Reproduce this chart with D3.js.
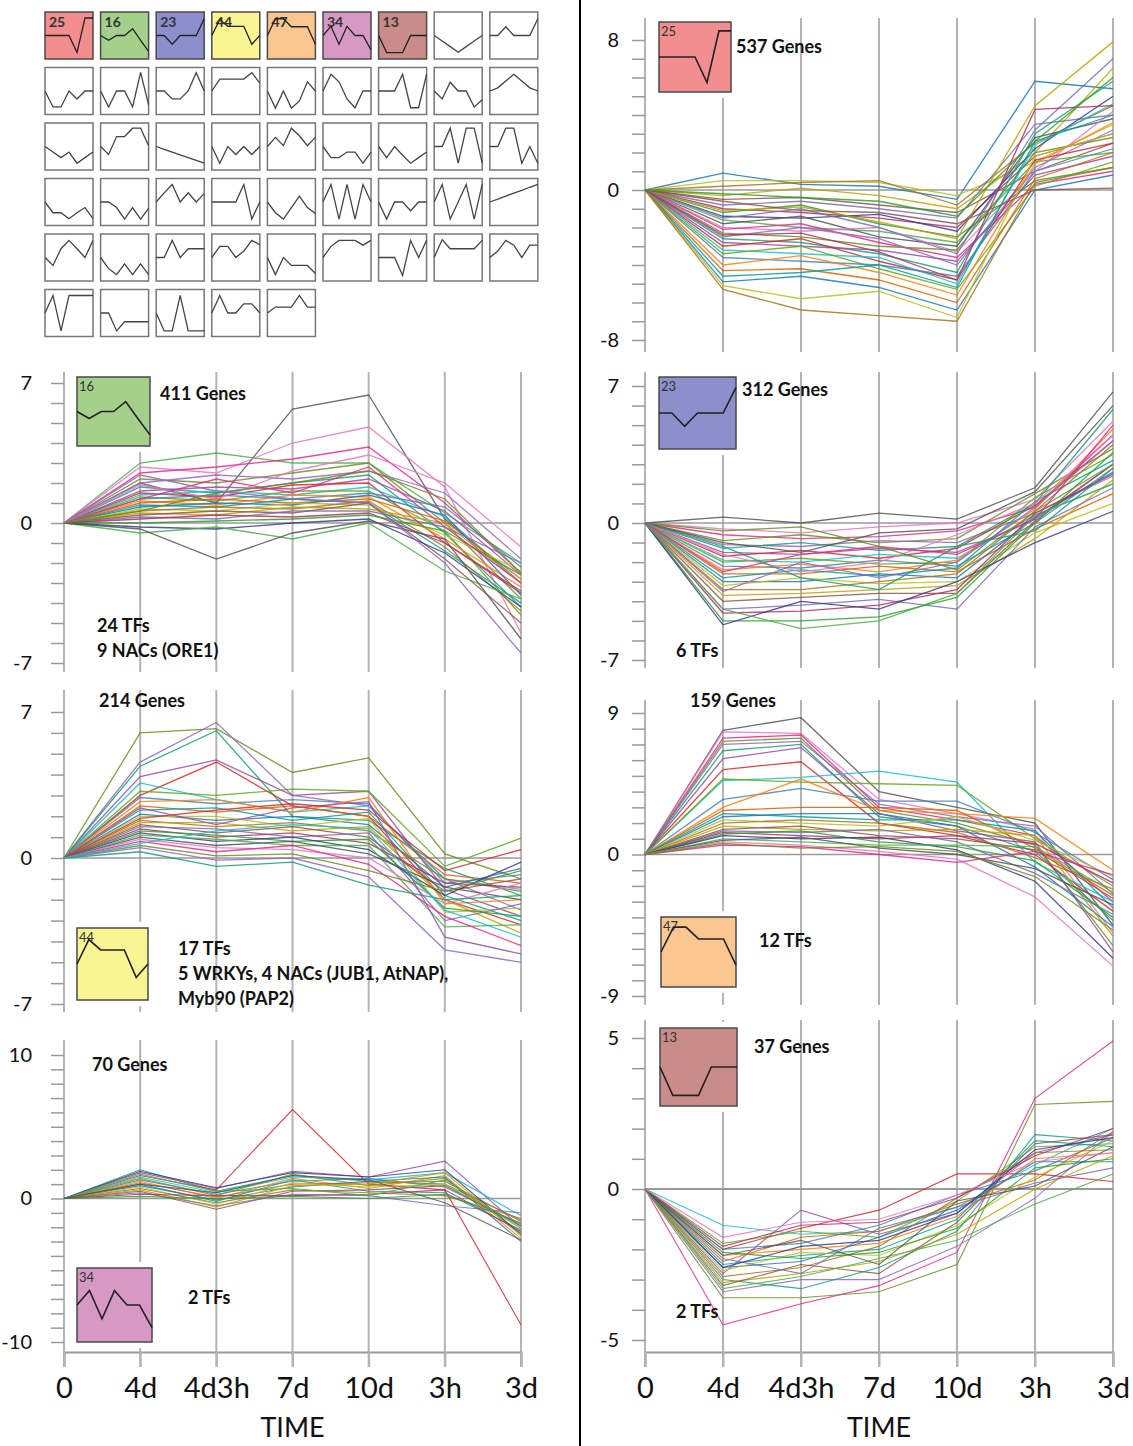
<!DOCTYPE html>
<html>
<head>
<meta charset="utf-8">
<script src="https://cdn.jsdelivr.net/npm/d3@7"></script>
<style>
  body { margin: 0; background: #fff; }
  svg { display: block; }
  text { font-family: Lato, "Open Sans", sans-serif; }
</style>
</head>
<body>
<div id="chart"></div>
<script>
// time points on the x axis
var times = ["0", "4d", "4d3h", "7d", "10d", "3h", "3d"];

// model profile ids of the coloured (significant) profiles
var gridIds = [25, 16, 23, 44, 47, 34, 13];

// the 50 model profiles shown as thumbnails (in profile units)
var gridProfiles = [
  [0, 0, 0, 0, -4.3, 4.4, 4.4],
  [0, -1.2, 0, 0, 1.7, -1.2, -4],
  [0, 0, -2.2, 0, 0, 0, 4.2],
  [0, 4, 2.3, 2.3, 2.3, -2.2, 0],
  [0, 4.2, 4.2, 2.2, 2.2, 2.2, -2.2],
  [0, 2.3, -2.2, 2.3, 0, 0, -3.6],
  [0, -4.3, -4.3, -4.3, 0, 0, 0],
  [0, -1.4, -2.8, -4.2, -2.8, -1.4, 0],
  [0, 0, 2.2, 0, 0, 0, 4.2],
  [0, -4, -4, 0, -2, 0, 0],
  [0, -4, 0, 0, -4, 4.7, -3.5],
  [0, 0, -2, -2, 0, 4.6, 0],
  [0, 3, 3, 3, 3, 4.6, 2],
  [0, -4.3, 0, -4.3, -2.5, 2.3, 0],
  [0, 4.2, 2.3, -2, -4.2, 0, 0],
  [0, 0, 0, 4.2, -4.2, -4.2, 4.2],
  [0, -2, 2.2, 0, 0, -4, -2.2],
  [0, 0.8, 2.5, 4.2, 2.5, 0.8, 0],
  [0, -1.4, -2.8, -1.4, -4.2, -2.8, -1.4],
  [0, -2, 2.5, 2.5, 4.6, 4.6, 0.2],
  [0, -0.7, -1.4, -2.1, -2.8, -3.5, -4.2],
  [0, -4.2, 0, -2, 0, -2, 0],
  [0, 2.3, 0.2, 4.6, 2.7, 0.2, 2.3],
  [0, -2.8, -2.8, -1.4, -1.4, -4.2, -1.4],
  [0, -2.8, 0, -2.2, -4.2, -2.8, -1.4],
  [0, 0, 4.6, -4.2, 4.6, 4.6, -4.2],
  [0, 0, 4.6, 4.6, -4.2, 0, -4.2],
  [0, -2.7, -2.7, -4.2, -2.7, -1.4, -4.2],
  [0, 0, -1.4, -4.3, -1.4, -4.3, -1.6],
  [0, 2.3, 4.4, 0, 2.3, 0, 2.1],
  [0, 0, 0, 0, 4.4, -4.3, 0],
  [0, -2.7, -4.3, -1.4, 1.5, -1.4, -2.9],
  [0, 4.4, -4.3, 4.4, -4.3, 4.4, 0],
  [0, -4.3, 0, 0, -2.2, 0, 0],
  [0, 4.4, -4.3, 0, 4.4, -4.3, 4.4],
  [0, 0.7, 1.5, 2.2, 2.9, 3.7, 4.4],
  [0, -2, 2.2, 4.3, 2.2, 0, 4.3],
  [0, -2.8, -4.3, -1.6, -4.3, -1.6, -4.3],
  [0, 0, 4.3, 0, 2.2, 2.2, 2.2],
  [0, 2.8, 2.8, 0, 1.6, 4.3, 3.2],
  [0, -4.3, 0, -2, -2, -2, -4],
  [0, 2.8, 4.3, 4.3, 4.3, 3.1, 4.3],
  [0, 0, 0, -4.5, 4.3, 0, 4.3],
  [0, 4.5, 2.2, 2.2, 2.2, 2.2, 4.3],
  [0, 1.6, 4.3, 3.1, 0, 3.1, 3.1],
  [0, 4.4, -4.5, 4.4, 4.4, 4.4, 4.4],
  [0, 0, -4.5, -2.2, -2.2, -2.2, -2.2],
  [0, -4.5, -4.5, 4.4, -4.5, -4.5, -4.5],
  [0, 4.4, 0, 0, 2.3, 2.3, 0],
  [0, 1.5, 1.5, 1.5, 4.4, 1.5, 1.5]
];

// gene expression lines (representative genes)
var genes25 = [
  [0, 0.9, 0.3, 0.2, -0.5, 5.8, 5.4],
  [0, 0.5, 0.5, 0.4, -0.3, 1.5, 3.5],
  [0, 0.2, 0.4, 0.5, -0.8, 2.5, 4.5],
  [0, -0.3, 0.1, -0.3, -1.0, 2.0, 6.5],
  [0, -0.5, -0.4, -0.8, -1.2, 1.0, 2.5],
  [0, -0.8, -0.6, -1.0, -1.5, 3.5, 4.0],
  [0, -1.0, -1.2, -1.5, -2.0, 1.8, 3.0],
  [0, -1.2, -0.8, -1.8, -2.5, 0.5, 1.2],
  [0, -1.4, -1.5, -1.3, -2.2, 2.2, 5.0],
  [0, -1.6, -2.0, -2.2, -2.8, 1.5, 2.0],
  [0, -1.8, -1.4, -2.5, -3.0, 2.8, 3.8],
  [0, -2.0, -2.2, -2.0, -3.3, 1.0, 4.2],
  [0, -2.1, -1.8, -2.8, -3.6, 0.3, 1.0],
  [0, -2.3, -2.5, -3.0, -3.2, 2.0, 2.8],
  [0, -2.5, -2.0, -2.6, -4.0, 1.2, 3.2],
  [0, -2.6, -2.8, -3.4, -4.4, 3.0, 5.8],
  [0, -2.8, -3.0, -3.2, -3.8, 0.8, 1.8],
  [0, -3.0, -2.6, -3.8, -4.8, 1.6, 2.5],
  [0, -3.2, -3.4, -3.6, -5.0, 2.4, 4.6],
  [0, -3.4, -3.0, -4.2, -5.3, 0.2, 1.5],
  [0, -3.6, -3.8, -4.0, -4.6, 1.0, 2.2],
  [0, -4.0, -3.5, -4.4, -5.6, 1.4, 3.6],
  [0, -4.3, -4.2, -4.8, -6.0, 0.6, 2.0],
  [0, -4.6, -4.4, -4.0, -5.2, 2.6, 4.0],
  [0, -4.9, -4.6, -5.2, -6.4, 0.0, 0.8],
  [0, -5.1, -5.8, -5.4, -6.8, 1.8, 3.0],
  [0, -5.3, -6.4, -6.7, -7.0, 0.4, 1.2],
  [0, -1.1, -0.9, -1.7, -2.6, 4.5, 7.9],
  [0, -0.6, -1.1, -1.2, -1.8, 0.0, 0.1],
  [0, -1.5, -1.0, -2.0, -3.4, 3.2, 7.0],
  [0, -2.4, -2.3, -3.3, -4.8, 4.3, 4.5],
  [0, -0.2, -0.4, -0.6, -1.4, 2.6, 6.0]
];
var genes16 = [
  [0, 3.0, 3.5, 3.0, 3.0, 0.5, -2.0],
  [0, 2.0, 1.0, 5.7, 6.4, 0.2, -3.0],
  [0, 2.8, 2.5, 4.0, 4.8, 1.8, -5.5],
  [0, 2.5, 2.8, 3.2, 3.8, 1.0, -2.5],
  [0, 2.2, 2.0, 2.5, 3.0, 0.0, -3.8],
  [0, 2.0, 2.4, 2.2, 2.6, 1.5, -1.8],
  [0, 1.8, 1.5, 2.0, 2.4, -0.5, -4.2],
  [0, 1.6, 1.8, 1.7, 2.2, 0.6, -2.6],
  [0, 1.5, 1.3, 1.9, 2.0, -1.0, -3.5],
  [0, 1.4, 1.6, 1.4, 1.8, 0.3, -3.0],
  [0, 1.3, 1.1, 1.6, 1.6, -0.4, -4.6],
  [0, 1.2, 1.4, 1.2, 1.5, 0.8, -2.2],
  [0, 1.1, 0.9, 1.4, 1.3, -0.8, -3.2],
  [0, 1.0, 1.2, 1.0, 1.2, 0.1, -2.8],
  [0, 0.9, 0.8, 1.2, 1.0, -1.4, -4.0],
  [0, 0.8, 1.0, 0.9, 1.4, 0.4, -3.6],
  [0, 0.7, 0.6, 1.0, 0.9, -0.6, -2.4],
  [0, 0.6, 0.8, 0.7, 1.1, -1.2, -4.4],
  [0, 0.5, 0.4, 0.8, 0.7, 0.0, -3.0],
  [0, 0.4, 0.6, 0.5, 1.0, -1.8, -5.0],
  [0, 0.3, 0.2, 0.6, 0.6, -0.2, -2.0],
  [0, 0.2, 0.4, 0.3, 0.5, -1.0, -3.4],
  [0, 0.0, 0.1, 0.2, 0.4, -0.4, -2.6],
  [0, -0.2, -0.3, 0.0, 0.2, -1.5, -4.2],
  [0, -0.5, -0.2, -0.8, 0.0, -2.4, -3.8],
  [0, -0.3, -1.8, -0.5, 0.1, -0.8, -5.8],
  [0, 1.9, 1.2, 2.6, 3.4, 2.0, -1.2],
  [0, 1.2, 2.2, 1.5, 2.8, -0.2, -3.0],
  [0, 0.6, 1.5, 2.0, 2.6, 1.2, -2.5],
  [0, 2.4, 1.6, 1.2, 1.0, -2.0, -6.5]
];
var genes23 = [
  [0, 0.3, 0.0, 0.5, 0.2, 1.8, 6.7],
  [0, -0.3, -0.5, -0.2, 0.0, 1.2, 5.2],
  [0, -0.6, -0.8, -0.7, -0.4, 0.8, 4.5],
  [0, -0.9, -0.6, -1.0, -0.8, 1.5, 3.8],
  [0, -1.1, -1.2, -0.9, -1.0, 0.5, 2.4],
  [0, -1.3, -1.0, -1.4, -1.2, 1.0, 5.8],
  [0, -1.5, -1.6, -1.3, -1.5, 0.2, 3.0],
  [0, -1.7, -1.4, -1.8, -1.3, 0.9, 4.2],
  [0, -1.9, -2.0, -1.6, -1.8, 0.4, 2.0],
  [0, -2.0, -1.8, -2.1, -2.0, 1.3, 3.5],
  [0, -2.2, -2.3, -1.9, -2.2, 0.0, 2.8],
  [0, -2.4, -2.1, -2.5, -1.9, 0.7, 4.8],
  [0, -2.6, -2.6, -2.2, -2.5, -0.3, 1.5],
  [0, -2.8, -2.4, -2.7, -2.3, 1.1, 3.2],
  [0, -3.0, -3.0, -2.6, -2.8, 0.3, 2.6],
  [0, -3.2, -2.8, -3.1, -3.0, -0.5, 1.0],
  [0, -3.4, -3.4, -3.0, -2.6, 0.6, 4.0],
  [0, -3.7, -3.6, -3.4, -3.2, -0.8, 2.2],
  [0, -4.0, -3.8, -3.6, -3.6, 0.1, 3.0],
  [0, -4.4, -4.2, -3.9, -4.4, -0.2, 1.8],
  [0, -4.6, -4.5, -4.2, -3.4, 0.5, 2.5],
  [0, -5.0, -5.0, -4.8, -3.8, 0.0, 3.6],
  [0, -5.2, -4.0, -4.4, -3.0, -1.0, 0.6],
  [0, -4.4, -5.4, -5.0, -3.6, 0.4, 2.0],
  [0, -1.0, -1.5, -0.5, -0.3, 1.6, 6.0],
  [0, -1.6, -2.5, -2.0, -0.6, 1.0, 4.5],
  [0, -2.5, -1.6, -1.2, -1.6, 0.2, 5.0],
  [0, -0.4, -0.2, -1.2, -2.4, 0.6, 3.0],
  [0, -3.5, -2.0, -2.8, -2.0, 0.8, 4.2],
  [0, -1.2, -2.8, -3.4, -1.2, -0.4, 2.8]
];
var genes44 = [
  [0, 6.0, 6.2, 4.1, 4.8, 0.2, -1.0],
  [0, 4.6, 6.5, 3.0, 2.5, -1.0, -2.5],
  [0, 4.4, 6.1, 2.0, 1.8, -0.5, -1.8],
  [0, 3.9, 4.7, 3.0, 3.2, -1.5, -2.8],
  [0, 3.0, 4.6, 2.5, 2.0, -2.0, -3.2],
  [0, 3.6, 2.8, 2.2, 2.5, -1.0, -1.5],
  [0, 3.2, 3.0, 3.3, 3.2, -0.4, 0.95],
  [0, 2.9, 2.6, 2.8, 2.6, -1.2, -0.8],
  [0, 2.7, 2.8, 2.2, 2.9, -2.2, -2.0],
  [0, 2.5, 2.2, 2.5, 2.0, -0.8, -1.2],
  [0, 2.3, 2.4, 1.8, 2.2, -1.8, -3.0],
  [0, 2.1, 1.8, 2.0, 1.6, -1.4, -0.5],
  [0, 2.0, 2.0, 1.5, 1.9, -2.6, -2.4],
  [0, 1.8, 1.5, 1.7, 1.3, -1.0, -1.6],
  [0, 1.7, 1.7, 1.3, 1.5, -2.0, -3.6],
  [0, 1.6, 1.2, 1.5, 1.0, -1.6, -1.0],
  [0, 1.5, 1.4, 1.0, 1.2, -3.0, -2.2],
  [0, 1.4, 1.0, 1.2, 0.7, -1.2, -1.4],
  [0, 1.3, 1.1, 0.8, 0.9, -2.4, -2.8],
  [0, 1.2, 0.8, 1.0, 0.4, -1.8, -0.2],
  [0, 1.1, 0.9, 0.6, 0.6, -3.3, -3.2],
  [0, 1.0, 0.6, 0.8, 0.2, -1.4, -2.0],
  [0, 0.9, 0.5, 0.4, 0.0, -2.2, -1.2],
  [0, 0.8, 0.3, 0.6, -0.3, -2.8, -4.2],
  [0, 0.6, 0.1, 0.2, -0.6, -1.6, -0.6],
  [0, 0.5, -0.1, 0.0, -0.9, -4.4, -5.0],
  [0, 0.3, -0.4, -0.2, -1.3, -2.0, -1.8],
  [0, 2.4, 1.6, 2.4, 2.7, -3.8, -4.6],
  [0, 1.9, 2.3, 2.6, 2.3, -0.6, 0.4],
  [0, 0.7, 1.3, 1.6, 1.4, -2.5, -3.8]
];
var genes47 = [
  [0, 7.9, 8.7, 4.0, 3.0, 2.0, -4.5],
  [0, 7.8, 7.7, 3.5, 2.6, 1.6, -5.0],
  [0, 7.4, 7.6, 3.0, 2.2, 1.2, -3.0],
  [0, 7.2, 7.4, 2.8, 2.0, 0.6, -5.8],
  [0, 7.0, 7.2, 3.2, 2.4, 1.8, -2.5],
  [0, 6.6, 7.0, 2.4, 1.8, 0.2, -4.2],
  [0, 6.1, 6.8, 2.6, 1.5, 0.8, -6.2],
  [0, 5.4, 5.9, 2.0, 1.2, 0.0, -3.6],
  [0, 4.7, 4.9, 5.3, 4.6, -0.5, -3.0],
  [0, 4.8, 4.6, 4.5, 4.4, 1.0, -2.0],
  [0, 3.5, 4.2, 3.4, 3.4, 1.4, -1.6],
  [0, 3.0, 4.8, 2.8, 2.6, 2.3, -1.0],
  [0, 2.8, 3.0, 3.0, 2.8, 0.4, -2.6],
  [0, 2.6, 2.4, 2.2, 2.2, 1.5, -3.4],
  [0, 2.4, 2.6, 2.6, 1.8, -0.8, -4.6],
  [0, 2.2, 2.0, 1.8, 2.4, 0.9, -1.4],
  [0, 2.0, 2.2, 2.0, 1.4, -0.2, -2.2],
  [0, 1.8, 1.6, 1.5, 1.6, 1.2, -5.2],
  [0, 1.6, 1.8, 1.2, 1.0, 0.3, -2.8],
  [0, 1.5, 1.4, 1.6, 0.8, -1.2, -3.8],
  [0, 1.4, 1.2, 1.0, 1.2, 0.7, -1.8],
  [0, 1.3, 1.5, 0.8, 0.5, -0.4, -4.0],
  [0, 1.2, 1.0, 1.1, 0.3, -1.7, -6.6],
  [0, 1.0, 0.8, 0.6, 0.6, 0.5, -2.4],
  [0, 0.9, 1.1, 0.4, 0.0, -0.9, -3.2],
  [0, 0.8, 0.6, 0.2, -0.3, -2.7, -7.1],
  [0, 0.6, 0.5, 0.0, -0.5, 0.2, -1.3],
  [0, 0.7, 0.4, 0.5, 0.2, -1.4, -4.8]
];
var genes34 = [
  [0, 2.0, 0.5, 1.6, 1.2, 1.0, -1.5],
  [0, 1.8, 0.7, 1.9, 1.5, 2.6, -2.0],
  [0, 1.6, 0.6, 6.2, 1.0, 0.6, -8.8],
  [0, 1.5, 0.4, 1.5, 1.3, 1.8, -1.2],
  [0, 1.4, 0.2, 1.7, 0.9, 1.4, -2.4],
  [0, 1.3, 0.3, 1.2, 1.4, 0.8, -1.8],
  [0, 1.2, 0.0, 1.4, 0.7, 1.6, -2.8],
  [0, 1.1, 0.1, 1.0, 1.1, 1.2, -1.6],
  [0, 1.0, -0.2, 1.3, 0.5, 0.4, -2.2],
  [0, 0.9, -0.1, 0.8, 1.2, 1.5, -3.0],
  [0, 0.8, -0.4, 1.1, 0.8, 1.0, -2.0],
  [0, 0.7, -0.3, 0.6, 0.4, 0.2, -1.4],
  [0, 0.6, -0.6, 0.9, 1.0, 1.8, -2.6],
  [0, 0.5, -0.75, 0.5, 0.6, 0.9, -1.9],
  [0, 0.4, -0.5, 0.3, 0.2, -0.5, -1.0],
  [0, 0.3, 0.2, 0.2, 0.3, 0.6, -2.3],
  [0, 0.15, 0.0, 0.15, 0.0, 0.3, -1.7],
  [0, 1.9, 0.75, 1.8, 1.5, 2.0, -2.5],
  [0, 1.7, 0.5, 0.7, 0.2, 1.3, -2.1],
  [0, 1.0, 0.4, 1.6, 1.3, -0.3, -2.9]
];
var genes13 = [
  [0, -4.5, -3.8, -3.2, -2.1, 3.0, 4.9],
  [0, -3.6, -3.6, -3.4, -2.5, 2.8, 2.9],
  [0, -3.4, -3.0, -3.0, -1.9, -0.3, 1.9],
  [0, -3.0, -3.3, -2.6, -1.4, 1.8, 1.6],
  [0, -2.8, -0.7, -1.5, -0.8, 1.2, 1.8],
  [0, -2.0, -1.3, -0.7, 0.5, 0.5, 0.25],
  [0, -1.2, -1.5, -1.4, -0.6, 0.8, 2.0],
  [0, -1.8, -1.4, -1.6, -0.4, 1.4, 1.5],
  [0, -2.0, -1.8, -1.2, -0.2, 0.6, 1.7],
  [0, -2.2, -2.0, -1.8, -0.9, 1.0, 1.2],
  [0, -2.4, -1.6, -1.4, -0.5, 0.3, 1.9],
  [0, -2.5, -2.2, -2.0, -1.0, 1.6, 1.4],
  [0, -2.6, -2.4, -1.6, -0.7, 0.9, 0.9],
  [0, -2.7, -2.1, -2.2, -1.2, 0.4, 1.6],
  [0, -2.9, -2.6, -1.9, -0.3, 1.2, 1.3],
  [0, -3.1, -2.8, -2.4, -1.5, 0.0, 1.1],
  [0, -3.2, -2.5, -2.8, -1.1, 1.5, 1.8],
  [0, -2.3, -2.8, -1.3, -0.6, 0.2, 0.7],
  [0, -1.9, -1.2, -1.1, -0.3, 1.1, 2.0],
  [0, -2.1, -2.3, -2.1, -1.3, 0.7, 1.0],
  [0, -2.6, -1.9, -1.7, -0.8, 1.3, 1.7],
  [0, -3.3, -2.9, -2.3, -1.7, -0.5, 0.5],
  [0, -2.2, -1.7, -2.5, -0.4, 0.1, 1.4],
  [0, -1.6, -1.1, -1.0, -0.2, 0.9, 1.2]
];

// y axis limits and texts of each cluster panel
var axisMax = { 25: 8, 16: 7, 23: 7, 44: 7, 47: 9, 34: 10, 13: 5 };
var geneLabels = { 25: "537 Genes", 16: "411 Genes", 23: "312 Genes", 44: "214 Genes", 47: "159 Genes", 34: "70 Genes", 13: "37 Genes" };
var tfLabels = {
  25: [], 16: ["24 TFs", "9 NACs (ORE1)"], 23: ["6 TFs"],
  44: ["17 TFs", "5 WRKYs, 4 NACs (JUB1, AtNAP),", "Myb90 (PAP2)"],
  47: ["12 TFs"], 34: ["2 TFs"], 13: ["2 TFs"]
};

// colours
var profileFill = { 25: "#f28e8e", 16: "#a4d08b", 23: "#8c8fcb", 44: "#f8f592", 47: "#fbc690", 34: "#d698c5", 13: "#c98c88" };
var geneColors = ["#d62728", "#1f77b4", "#2ca02c", "#9467bd", "#ff7f0e", "#8c564b", "#e377c2", "#17becf",
  "#bcbd22", "#3a3a8c", "#1b9e77", "#d95f02", "#7570b3", "#e7298a", "#66a61e", "#a6761d",
  "#4daf4a", "#984ea3", "#00a0a0", "#b03060", "#6b8e23", "#4682b4", "#c0a000", "#555555"];

var W = 1133, H = 1446;
var svg = d3.select("#chart").append("svg").attr("width", W).attr("height", H);

// divider between the two columns
svg.append("line").attr("x1", 580).attr("x2", 580).attr("y1", 0).attr("y2", H)
  .attr("stroke", "#000").attr("stroke-width", 2);

// draws one small profile box
function drawThumb(g, x, y, w, h, profile, fill, id, big) {
  var tx = d3.scalePoint().domain(d3.range(times.length)).range([x, x + w]);
  var ty = d3.scaleLinear().domain([-5.9, 5.9]).range([y + h, y]);
  g.append("rect").attr("x", x).attr("y", y).attr("width", w).attr("height", h)
    .attr("fill", fill || "#fff").attr("stroke", fill ? "#4a4a4a" : "#777").attr("stroke-width", 1.5);
  if (id) {
    g.append("text").attr("x", x + (big ? 2 : 4)).attr("y", y + (big ? 14 : 15))
      .attr("font-size", big ? 13 : 14).attr("font-weight", big ? 400 : 700)
      .attr("fill", "#333").text(id);
  }
  g.append("path").datum(profile)
    .attr("fill", "none").attr("stroke", fill ? "#222" : "#444").attr("stroke-width", big ? 1.6 : 1.3)
    .attr("d", d3.line().x(function (d, i) { return tx(i); }).y(function (d) { return ty(d); }));
}

// grid of all model profiles
var grid = svg.append("g");
gridProfiles.forEach(function (p, i) {
  var col = i % 9, row = Math.floor(i / 9);
  var id = i < gridIds.length ? gridIds[i] : null;
  drawThumb(grid, 45 + col * 55.6, 12 + row * 55.5, 48, 47, p, id ? profileFill[id] : null, id, false);
});

// layout of the cluster panels
var panels = [
  { id: 25, genes: genes25, left: 645, yTop: 40, yBot: 340, gTop: 18, gBot: 352, thumb: [659, 22, 72, 70],
    gene: [736, 53], tf: [0, 0] },
  { id: 23, genes: genes23, left: 645, yTop: 386, yBot: 660, gTop: 372, gBot: 668, thumb: [659, 377, 77, 72],
    gene: [742, 396], tf: [676, 657] },
  { id: 47, genes: genes47, left: 645, yTop: 713, yBot: 996, gTop: 700, gBot: 1005, thumb: [661, 917, 75, 70],
    gene: [690, 707], tf: [759, 947] },
  { id: 13, genes: genes13, left: 645, yTop: 1038, yBot: 1340, gTop: 1020, gBot: 1352, thumb: [660, 1028, 77, 78],
    gene: [754, 1053], tf: [676, 1318], bottom: true },
  { id: 16, genes: genes16, left: 64, yTop: 383, yBot: 663, gTop: 372, gBot: 672, thumb: [77, 377, 73, 69],
    gene: [160, 400], tf: [97, 632] },
  { id: 44, genes: genes44, left: 64, yTop: 712, yBot: 1004, gTop: 690, gBot: 1012, thumb: [77, 928, 71, 72],
    gene: [99, 707], tf: [178, 955] },
  { id: 34, genes: genes34, left: 64, yTop: 1055, yBot: 1342, gTop: 1040, gBot: 1352, thumb: [77, 1268, 75, 74],
    gene: [92, 1071], tf: [188, 1304], bottom: true }
];

panels.forEach(function (p) {
  var right = p.left === 645 ? 1113 : 521;
  var x = d3.scalePoint().domain(times).range([p.left, right]);
  var m = axisMax[p.id];
  var y = d3.scaleLinear().domain([-m, m]).range([p.yBot, p.yTop]);
  var g = svg.append("g");

  // vertical grid lines at the time points
  g.selectAll(".grid").data(times).enter().append("line")
    .attr("x1", function (d) { return x(d); }).attr("x2", function (d) { return x(d); })
    .attr("y1", p.gTop).attr("y2", p.bottom ? p.gBot + 15 : p.gBot)
    .attr("stroke", "#b4b4b4").attr("stroke-width", 2);

  // y axis with a tick every unit
  var yAxis = d3.axisLeft(y).tickValues(d3.range(-m, m + 1)).tickSize(13)
    .tickFormat(function (d) { return (d === m || d === -m || d === 0) ? d : ""; });
  var ya = g.append("g").attr("transform", "translate(" + p.left + ",0)").call(yAxis);
  ya.select(".domain").remove();
  ya.selectAll(".tick line").attr("stroke", "#9a9a9a").attr("stroke-width", 1.5);
  ya.selectAll(".tick text").attr("font-size", 20).attr("fill", "#111")
    .attr("font-family", "Lato, sans-serif").attr("dx", p.left === 645 ? -10 : -16);

  // zero line
  g.append("line").attr("x1", p.left).attr("x2", right).attr("y1", y(0)).attr("y2", y(0))
    .attr("stroke", "#9a9a9a").attr("stroke-width", p.id === 13 ? 2.2 : 1.5);

  // gene lines
  var line = d3.line().x(function (d, i) { return x(times[i]); }).y(function (d) { return y(d); });
  g.selectAll(".gene").data(p.genes).enter().append("path")
    .attr("fill", "none")
    .attr("stroke", function (d, i) { return geneColors[(i * 7 + p.id) % geneColors.length]; })
    .attr("stroke-width", p.genes.length > 25 ? 1.3 : 1.1).attr("stroke-opacity", 0.85)
    .attr("d", line);

  // profile box with white margin
  var t = p.thumb;
  g.append("rect").attr("x", t[0] - 6).attr("y", t[1] - 6).attr("width", t[2] + 12).attr("height", t[3] + 12)
    .attr("fill", "#fff");
  drawThumb(g, t[0], t[1], t[2], t[3], gridProfiles[gridIds.indexOf(p.id)], profileFill[p.id], p.id, true);

  // texts
  g.append("text").attr("x", p.gene[0]).attr("y", p.gene[1]).attr("font-size", 18).attr("font-weight", 700)
    .attr("fill", "#111").text(geneLabels[p.id]);
  tfLabels[p.id].forEach(function (s, k) {
    g.append("text").attr("x", p.tf[0]).attr("y", p.tf[1] + k * 25).attr("font-size", 18).attr("font-weight", 700)
      .attr("fill", "#111").text(s);
  });

  // time axis under the bottom panels
  if (p.bottom) {
    var xa = g.append("g").attr("transform", "translate(0," + p.gBot + ")")
      .call(d3.axisBottom(x).tickSize(15).tickPadding(10));
    xa.select(".domain").attr("stroke", "#9a9a9a").attr("stroke-width", 2);
    xa.selectAll(".tick line").attr("stroke", "#b4b4b4").attr("stroke-width", 2);
    xa.selectAll(".tick text").attr("font-size", 29).attr("fill", "#111").attr("font-family", "Lato, sans-serif");
    g.append("text").attr("x", (p.left + right) / 2).attr("y", 1437).attr("text-anchor", "middle")
      .attr("font-size", 27).attr("fill", "#111").text("TIME");
  }
});
</script>
</body>
</html>
